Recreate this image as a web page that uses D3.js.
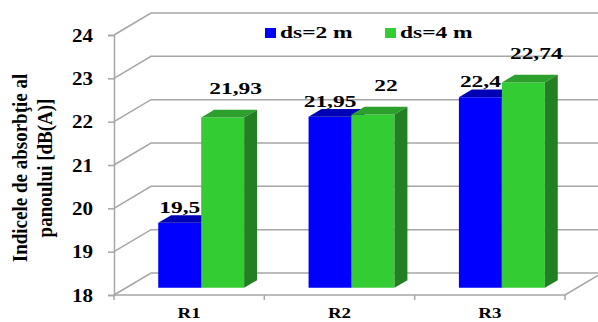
<!DOCTYPE html>
<html>
<head>
<meta charset="utf-8">
<script src="https://cdn.jsdelivr.net/npm/d3@7"></script>
<style>
  html, body { margin: 0; padding: 0; background: #fff; }
  svg { display: block; }
  text { font-family: "Liberation Serif", "Times New Roman", serif; font-weight: bold; fill: #000; }
</style>
</head>
<body>
<svg id="chart" width="598" height="322"></svg>
<script>
// Data
const categories = ["R1", "R2", "R3"];
const seriesNames = ["ds=2 m", "ds=4 m"];
const valuesDs2 = [19.5, 21.95, 22.4];
const valuesDs4 = [21.93, 22, 22.74];
const yTicks = [18, 19, 20, 21, 22, 23, 24];
const yTitleLines = ["Indicele de absorbţie al", "panoului [dB(A)]"];

const seriesValues = [valuesDs2, valuesDs4];
const palette = [
  { front: "#0000ff", top: "#0000b4", side: "#00008c" },
  { front: "#33cc33", top: "#2c9f2c", side: "#228022" }
];

// Horizontal stretch factors for the text
const SX = 1.38, SX_TICK = 1.17, SX_TITLE = 1.15;

const svg = d3.select("#chart");

const plot = { left: 114, right: 565, top: 35, bottom: 295 };
const depth = { dx: 37, dy: -22 };       // wall depth of the 3-D box
const barFront = 0.325, barDepth = 0.35; // bar slab position within the depth

const x = d3.scaleBand().domain(categories).range([plot.left, plot.right]).paddingInner(0).paddingOuter(0);
const xs = d3.scaleBand().domain(seriesNames).range([0, x.bandwidth()]).paddingInner(0).paddingOuter(0.75);
const y = d3.scaleLinear().domain([18, 24]).range([plot.bottom, plot.top]);

const gridColor = "#a6a6a6";

// Back wall and side wall gridlines
const grid = svg.append("g");
yTicks.forEach(t => {
  const yy = y(t);
  grid.append("path")
    .attr("d", `M${plot.left},${yy} L${plot.left + depth.dx},${yy + depth.dy} L${plot.right + depth.dx},${yy + depth.dy}`)
    .attr("fill", "none").attr("stroke", gridColor).attr("stroke-width", 1.5);
});

// Floor front edge and right edge
grid.append("path")
  .attr("d", `M${plot.left},${plot.bottom} L${plot.right},${plot.bottom} L${plot.right + depth.dx},${plot.bottom + depth.dy}`)
  .attr("fill", "none").attr("stroke", gridColor).attr("stroke-width", 1.5);

// Category boundary ticks
const bounds = categories.map(c => x(c)).concat([plot.right]);
grid.selectAll(".xtick").data(bounds).enter().append("line")
  .attr("x1", d => d).attr("x2", d => d)
  .attr("y1", plot.bottom).attr("y2", plot.bottom + 5)
  .attr("stroke", gridColor).attr("stroke-width", 1.5);

// Value axis
const yAxis = svg.append("g")
  .attr("transform", `translate(${plot.left},0)`)
  .call(d3.axisLeft(y).tickValues(yTicks).tickSize(6).tickFormat(d3.format("d")))
  .attr("font-family", "Liberation Serif, serif")
  .attr("font-size", 18)
  .attr("font-weight", "bold");
yAxis.select(".domain").attr("stroke", gridColor).attr("stroke-width", 1.5);
yAxis.selectAll(".tick line").attr("stroke", gridColor).attr("stroke-width", 1.5);
yAxis.selectAll(".tick text")
  .attr("x", -21 / SX_TICK)
  .attr("dy", "0.34em")
  .attr("transform", `scale(${SX_TICK},1)`);

// Category labels
svg.selectAll(".xlabel").data(categories).enter().append("text")
  .attr("transform", d => `translate(${x(d) + x.bandwidth() / 2},318) scale(1.26,1)`)
  .attr("text-anchor", "middle")
  .style("font-size", "15px")
  .text(d => d);

// Bars
const bw = xs.bandwidth();
const fdx = depth.dx * barFront, fdy = depth.dy * barFront;
const bdx = depth.dx * barDepth, bdy = depth.dy * barDepth;
const yBase = y(18) + fdy;

const bars = [];
categories.forEach((c, ci) => {
  seriesNames.forEach((s, si) => {
    const v = seriesValues[si][ci];
    const x0 = x(c) + xs(s) + fdx;
    const x1 = x0 + bw;
    const yTop = y(v) + fdy;
    bars.push({ c, s, si, v, x0, x1, yTop });
  });
});

const barG = svg.append("g");
bars.forEach(b => {
  const col = palette[b.si];
  const g = barG.append("g");
  g.append("polygon")
    .attr("points", [[b.x0, b.yTop], [b.x1, b.yTop], [b.x1, yBase], [b.x0, yBase]].join(" "))
    .attr("fill", col.front);
  g.append("polygon")
    .attr("points", [[b.x0, b.yTop], [b.x1, b.yTop], [b.x1 + bdx, b.yTop + bdy], [b.x0 + bdx, b.yTop + bdy]].join(" "))
    .attr("fill", col.top);
  g.append("polygon")
    .attr("points", [[b.x1, b.yTop], [b.x1 + bdx, b.yTop + bdy], [b.x1 + bdx, yBase + bdy], [b.x1, yBase]].join(" "))
    .attr("fill", col.side);
});

// Value labels
const fmt = v => String(v).replace(".", ",");
bars.forEach(b => {
  const cx = (b.x0 + b.x1) / 2 + (b.si === 1 ? bdx : 0);
  const by = b.yTop + bdy + (b.si === 1 ? -16 : -2);
  svg.append("text")
    .attr("transform", `translate(${cx},${by}) scale(${SX},1)`)
    .attr("text-anchor", "middle")
    .style("font-size", "17px")
    .text(fmt(b.v));
});

// Legend
const legendItems = [{ x: 265 }, { x: 385 }];
seriesNames.forEach((s, i) => {
  const lx = legendItems[i].x;
  svg.append("rect")
    .attr("x", lx).attr("y", 28).attr("width", 11).attr("height", 10)
    .attr("fill", palette[i].front);
  svg.append("text")
    .attr("transform", `translate(${lx + 15},38) scale(${SX},1)`)
    .style("font-size", "17px")
    .text(s);
});

// Value axis title
const title = svg.append("g")
  .attr("transform", `translate(27,168) scale(${SX_TITLE},1) rotate(-90)`);
yTitleLines.forEach((line, i) => {
  title.append("text")
    .attr("x", 0).attr("y", i * 25 / SX_TITLE)
    .attr("text-anchor", "middle")
    .style("font-size", "19px")
    .text(line);
});
</script>
</body>
</html>
